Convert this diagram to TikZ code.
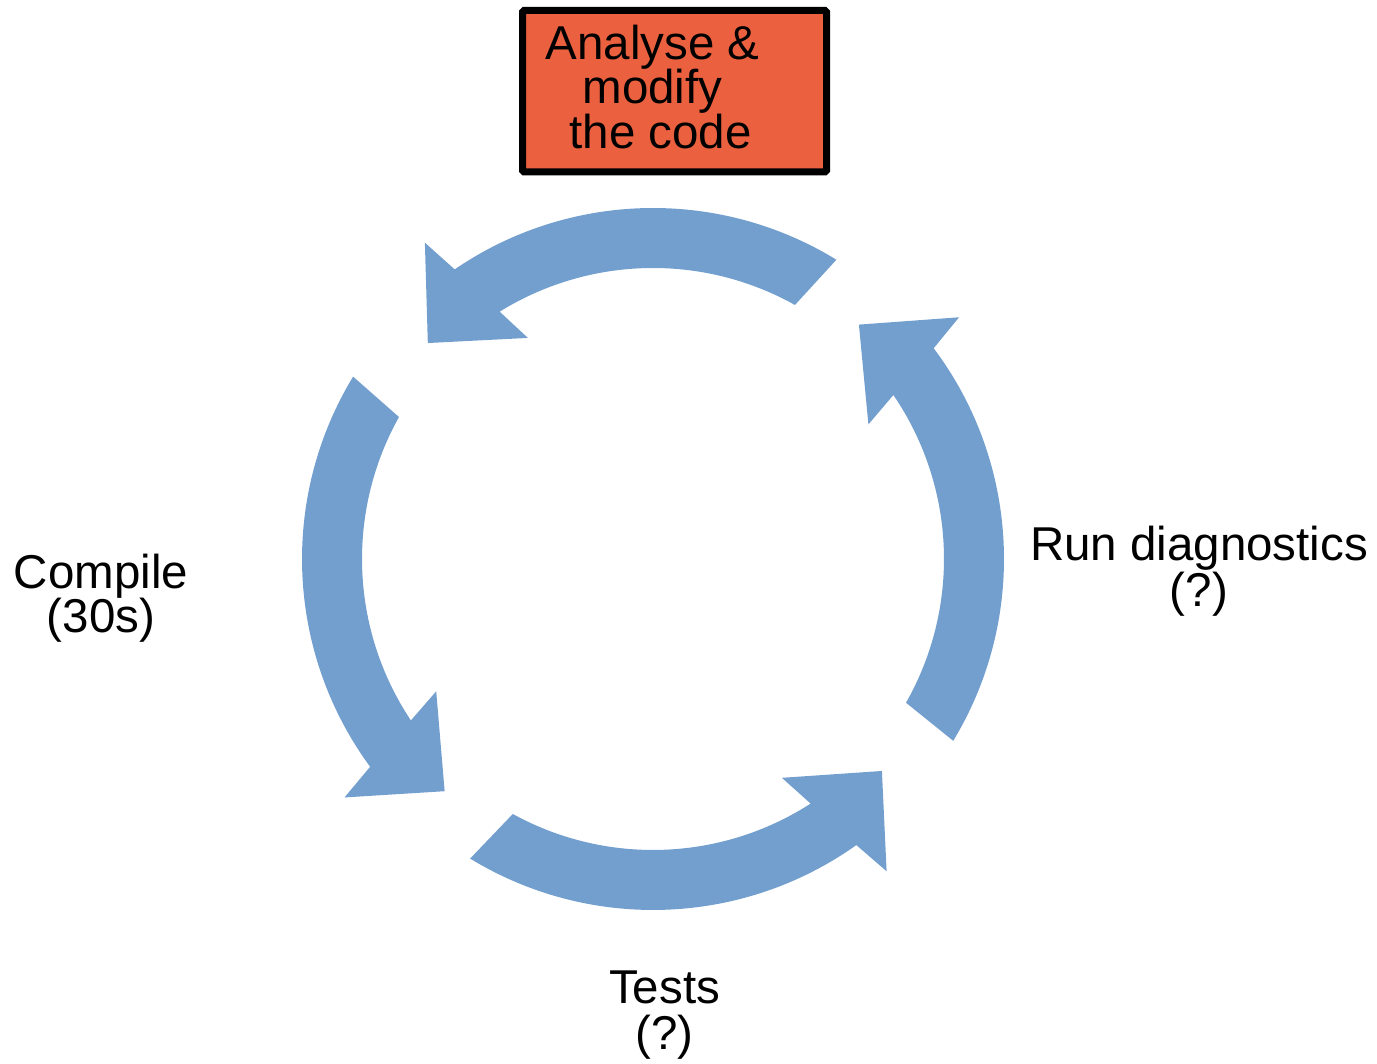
\documentclass[tikz,border=0pt]{standalone}
\usepackage{fontspec}
\setmainfont{Liberation Sans}
\usetikzlibrary{calc}

\definecolor{cycleblue}{RGB}{115,159,207}
\definecolor{stepred}{RGB}{235,97,63}

% Curved block arrow around the hub.
% #1 = angle of outer tail corner, #2 = angle of inner tail corner, #3 = angle of the tip
\newcommand{\cyclearrow}[3]{%
  \fill[cyclefill]
    ($(hub)+({#1}:351)$) arc[start angle={#1}, end angle={#3-11.8}, radius=351]
    -- ($(hub)+({#3-10.4}:390)$)
    -- ($(hub)+({#3}:312)$)
    -- ($(hub)+({#3-16.7}:254)$)
    -- ($(hub)+({#3-14.4}:291)$)
    arc[start angle={#3-14.4}, end angle={#2}, radius=291]
    -- cycle;}

\begin{document}
\begin{tikzpicture}[x=1pt, y=1pt,
  cyclefill/.style={fill=cycleblue},
  steplabel/.style={font=\fontsize{47.5}{46.5}\selectfont, align=center, inner sep=0pt, anchor=base},
  stepbox/.style={draw=black, line width=7pt, fill=stepred, rounded corners=1.5pt,
    minimum width=304pt, minimum height=161.5pt, inner sep=0pt,
    font=\fontsize{47.5}{44.5}\selectfont, align=center}]
  \lineskiplimit=-100pt
  \path[use as bounding box] (0,0) rectangle (1377,1064);

  \coordinate (hub) at (653,505);

  % the four steps of the cycle, turning anticlockwise
  \cyclearrow{58.5}{60.8}{136.2}
  \cyclearrow{148.7}{150.8}{228.1}
  \cyclearrow{238.6}{241.2}{317.2}
  \cyclearrow{-31.2}{-29.6}{48.7}

  % the current step
  \node[stepbox] (analyse) at (674.5,972.75)
    {Analyse \&\kern44pt\\modify\kern44pt\\the code\kern28pt\vphantom{p}};

  % the other steps (anchored on the baseline of their last line)
  \node[steplabel, font=\fontsize{47.5}{44.5}\selectfont] (compile) at (101,431) {Compile\\(30s)};
  \node[steplabel] (diagnostics) at (1199,457) {Run diagnostics\\(?)};
  \node[steplabel] (tests) at (664.5,14) {Tests\\(?)};
\end{tikzpicture}
\end{document}
